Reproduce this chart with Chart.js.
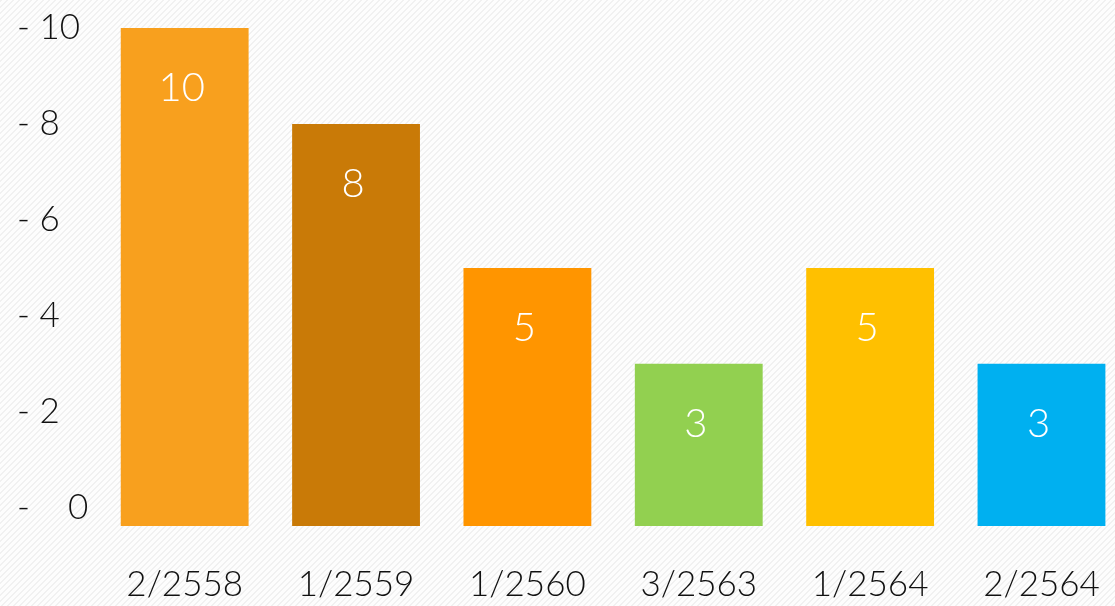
<!DOCTYPE html>
<html>
<head>
<meta charset="utf-8">
<script src="https://cdn.jsdelivr.net/npm/chart.js@4.4.1/dist/chart.umd.min.js"></script>
<style>
    html, body {
        margin: 0;
        padding: 0;
        width: 1115px;
        height: 606px;
        overflow: hidden;
        background-color: #fcfcfc;
    }
    #wrap {
        position: relative;
        width: 1138px;
        height: 606px;
    }
</style>
</head>
<body>
<div id="wrap"><canvas id="barChart"></canvas></div>
<script>
const categories = ['2/2558', '1/2559', '1/2560', '3/2563', '1/2564', '2/2564'];
const counts = [10, 8, 5, 3, 5, 3];
const barColors = ['#F8A01E', '#C97A07', '#FF9500', '#92D050', '#FFC000', '#00B0F0'];
const yTicks = [0, 2, 4, 6, 8, 10];
const yTickLabels = ['-    0', '- 2', '- 4', '- 6', '- 8', '- 10'];

const FONT = 'Lato, "Open Sans", sans-serif';
const yMin = -0.38;

// fine diagonal stripe tile for the page background
const tile = document.createElement('canvas');
tile.width = 6;
tile.height = 6;
const tctx = tile.getContext('2d');
tctx.fillStyle = '#fdfdfd';
tctx.fillRect(0, 0, 6, 6);
tctx.fillStyle = '#f1f1f1';
for (let y = 0; y < 6; y++) {
    for (let x = 0; x < 6; x++) {
        if ((x + y) % 6 < 2) tctx.fillRect(x, y, 1, 1);
    }
}
document.body.style.backgroundImage = 'url(' + tile.toDataURL() + ')';

// white value labels inside each bar
const valueLabels = {
    id: 'valueLabels',
    afterDatasetsDraw(chart) {
        const ctx = chart.ctx;
        const meta = chart.getDatasetMeta(0);
        ctx.save();
        ctx.fillStyle = '#ffffff';
        ctx.font = '300 40px ' + FONT;
        ctx.textAlign = 'center';
        ctx.textBaseline = 'middle';
        meta.data.forEach((bar, i) => {
            ctx.fillText(String(counts[i]), bar.x - 3, bar.y + 60);
        });
        ctx.restore();
    }
};

const ctx = document.getElementById('barChart').getContext('2d');
new Chart(ctx, {
    type: 'bar',
    data: {
        labels: categories,
        datasets: [{
            data: counts,
            backgroundColor: barColors,
            borderWidth: 0,
            base: yMin,
            barPercentage: 0.746,
            categoryPercentage: 1
        }]
    },
    options: {
        responsive: true,
        maintainAspectRatio: false,
        animation: false,
        layout: {
            padding: { left: 17, right: 2, top: 28, bottom: 0 }
        },
        plugins: {
            legend: { display: false },
            tooltip: { enabled: false }
        },
        scales: {
            x: {
                grid: { display: false, drawTicks: false },
                border: { display: false },
                afterFit: axis => {
                    axis.height = 80;
                },
                ticks: {
                    color: '#111111',
                    font: { family: FONT, size: 35, weight: '300' },
                    padding: 38,
                    maxRotation: 0
                }
            },
            y: {
                min: yMin,
                max: 10,
                grid: { display: false, drawTicks: false },
                border: { display: false },
                afterBuildTicks: axis => {
                    axis.ticks = yTicks.map(v => ({ value: v }));
                },
                afterFit: axis => {
                    axis.width = 82;
                },
                ticks: {
                    crossAlign: 'far',
                    color: '#111111',
                    font: { family: FONT, size: 35, weight: '300' },
                    padding: 0,
                    callback: (value) => yTickLabels[yTicks.indexOf(value)]
                }
            }
        }
    },
    plugins: [valueLabels]
});
</script>
</body>
</html>
